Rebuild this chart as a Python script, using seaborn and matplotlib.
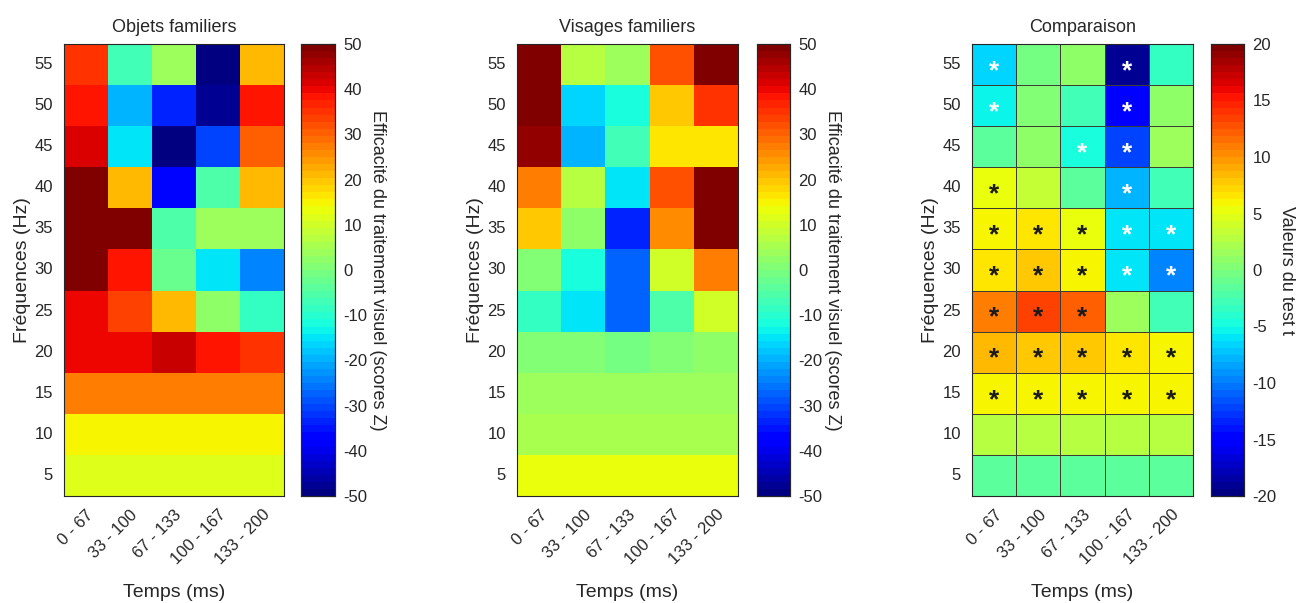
import numpy as np
import pandas as pd
import matplotlib
matplotlib.use("Agg")
import matplotlib.pyplot as plt
import seaborn as sns

# ---------------- data ----------------
freqs = [55, 50, 45, 40, 35, 30, 25, 20, 15, 10, 5]  # top to bottom
times = ["0 - 67", "33 - 100", "67 - 133", "100 - 167", "133 - 200"]

objets = [
    [35, -7, 4.5, -50, 21],
    [39, -19, -34, -48, 39],
    [41, -15.5, -49, -31, 31],
    [50, 21, -36, -5, 21],
    [50, 50, -5, 4.5, 4.5],
    [50, 37.5, -2, -15.5, -24],
    [40, 34, 21, 2, -9],
    [40, 40, 43, 38, 35.5],
    [27.5, 27.5, 27.5, 27.5, 27.5],
    [15, 15, 15, 15, 15],
    [12, 12, 12, 12, 12],
]

visages = [
    [50, 6.4, 4.5, 32.5, 50],
    [50, -17, -11, 19, 35.5],
    [48, -19, -7, 16, 17],
    [27.5, 6.4, -15.5, 32.5, 50],
    [19, 2, -33, 26, 50],
    [0.5, -11, -28, 10, 27.5],
    [-9, -15.5, -28, -5, 10],
    [0.5, 0.5, -1.5, 1, 3],
    [4.5, 4.5, 4.5, 4.5, 4.5],
    [5, 5, 5, 5, 5],
    [14, 14, 14, 14, 14],
]

comparaison = [
    [-6.8, -0.4, 0.8, -19, -3.6],
    [-5.6, 0.2, -2.8, -15.6, 1.2],
    [-1.4, 0.8, -4.4, -12, 1.8],
    [5.3, 3.2, -1.4, -8.1, -2.8],
    [5.8, 6.4, 5.6, -6.2, -6.2],
    [6.8, 8.0, 5.8, -6.2, -10],
    [11, 13.6, 12.4, 1.8, -2.8],
    [8.4, 7.6, 7.6, 6.4, 5.8],
    [6.0, 6.2, 6.0, 6.0, 6.0],
    [2.6, 2.6, 2.6, 2.6, 2.6],
    [-1.7, -1.7, -1.7, -1.7, -1.7],
]

significatif = [
    [1, 0, 0, 1, 0],
    [1, 0, 0, 1, 0],
    [0, 0, 1, 1, 0],
    [1, 0, 0, 1, 0],
    [1, 1, 1, 1, 1],
    [1, 1, 1, 1, 1],
    [1, 1, 1, 0, 0],
    [1, 1, 1, 1, 1],
    [1, 1, 1, 1, 1],
    [0, 0, 0, 0, 0],
    [0, 0, 0, 0, 0],
]

titles = ["Objets familiers", "Visages familiers", "Comparaison"]
cbar_labels = ["Efficacité du traitement visuel (scores Z)",
               "Efficacité du traitement visuel (scores Z)",
               "Valeurs du test t"]

# ---------------- style ----------------
sns.set_style("white")
plt.rcParams["font.family"] = ["Liberation Sans", "DejaVu Sans"]
plt.rcParams["axes.unicode_minus"] = False
TXT = "#262626"

W, H = 1299, 603
fig = plt.figure(figsize=(W / 100, H / 100), dpi=100)


def rect(x, y, w, h):
    return [x / W, 1 - (y + h) / H, w / W, h / H]


ax_rects = [rect(64, 44, 220, 452), rect(517, 44, 221, 452), rect(972, 44, 221, 452)]
cax_rects = [rect(301, 44, 34, 452), rect(757, 44, 33, 452), rect(1211, 44, 33, 452)]

cmap = plt.get_cmap("jet", 64)
datasets = [objets, visages, comparaison]
lims = [(-50, 50), (-50, 50), (-20, 20)]
cticks = [np.arange(-50, 51, 10), np.arange(-50, 51, 10), np.arange(-20, 21, 5)]

for i in range(3):
    ax = fig.add_axes(ax_rects[i])
    cax = fig.add_axes(cax_rects[i])
    df = pd.DataFrame(datasets[i], index=freqs, columns=times)
    kw = {}
    if i == 2:
        kw = dict(linewidths=0.5, linecolor="#3d3d33")
    sns.heatmap(df, ax=ax, cmap=cmap, vmin=lims[i][0], vmax=lims[i][1],
                cbar_ax=cax, cbar_kws={"ticks": cticks[i]}, **kw)
    for s in ax.spines.values():
        s.set_visible(True)
        s.set_color(TXT)
        s.set_linewidth(0.8)
    ax.set_title(titles[i], fontsize=13, color=TXT, pad=9)
    ax.set_ylabel("Fréquences (Hz)", fontsize=14, color=TXT, labelpad=2)
    ax.set_xlabel("Temps (ms)", fontsize=14, color=TXT, labelpad=12)
    ax.tick_params(axis="both", length=0, labelsize=12, colors=TXT, pad=8)
    ax.set_yticklabels([str(f) for f in freqs], rotation=0)
    ax.set_xticklabels(times, rotation=45, ha="right", rotation_mode="anchor")

    # colorbar styling
    cax.tick_params(direction="in", length=4, width=0.8, labelsize=12,
                    colors=TXT, pad=6)
    for s in cax.spines.values():
        s.set_visible(True)
        s.set_color(TXT)
        s.set_linewidth(0.8)
    cax.set_ylabel(cbar_labels[i], rotation=270, fontsize=13, color=TXT,
                   labelpad=13)

    if i == 2:
        for r in range(len(freqs)):
            for c in range(len(times)):
                if significatif[r][c]:
                    col = "white" if comparaison[r][c] < 0 else "#1a1a1a"
                    ax.text(c + 0.5, r + 0.66, "*", ha="center", va="center",
                            fontsize=19, fontweight="bold", color=col)

fig.savefig("out.png", dpi=100)
